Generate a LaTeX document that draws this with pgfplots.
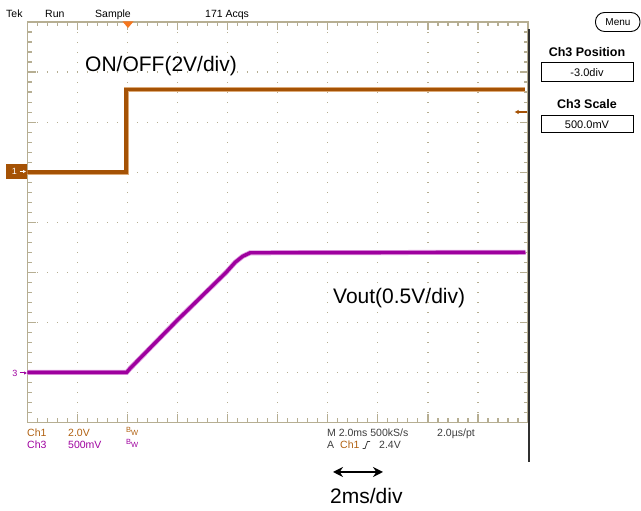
\documentclass[border=0pt]{standalone}
\usepackage{fontspec}
\setmainfont{Liberation Sans}
\usepackage{pgfplots}
\pgfplotsset{compat=1.18}
\usetikzlibrary{arrows.meta}
\definecolor{frame}{RGB}{182,174,146}
\definecolor{chone}{RGB}{165,82,5}
\definecolor{chonehalo}{RGB}{220,170,120}
\definecolor{chonetext}{RGB}{176,96,16}
\definecolor{chthree}{RGB}{158,0,158}
\definecolor{chthreehalo}{RGB}{220,150,220}
\definecolor{trig}{RGB}{245,118,30}
\definecolor{stat}{RGB}{60,60,60}
\begin{document}
\begin{tikzpicture}[x=1pt,y=1pt]
\path[use as bounding box] (0,0) rectangle (641,511);
\begin{axis}[at={(27.5pt,88.5pt)}, anchor=south west, scale only axis,
  width=500.5pt, height=400.5pt,
  xmin=0, xmax=10, ymin=0, ymax=8,
  xtick={0,...,10}, ytick={0,...,8},
  minor x tick num=4, minor y tick num=4,
  xticklabels={}, yticklabels={},
  tick align=inside, major tick length=8pt, minor tick length=4pt,
  axis line style={draw=frame, line width=1.3pt},
  every tick/.style={draw=frame, line width=1.2pt},
  minor tick style={draw=frame, line width=1.2pt},
  major tick style={draw=frame, line width=1.2pt},
  grid=major,
  major grid style={draw=frame, line width=1.2pt, dash pattern=on 1.2pt off 8.8pt, dash phase=0.6pt},
  axis on top=false]
% Ch1 ON/OFF
\addplot[chonehalo, line width=5pt, sharp plot] coordinates {(0,5.0) (1.97,5.0) (1.97,6.65) (9.95,6.65)};
\addplot[chone, line width=3.4pt, sharp plot] coordinates {(0,5.0) (1.97,5.0) (1.97,6.65) (9.95,6.65)};
% Ch3 Vout
\addplot[chthreehalo, line width=5pt, sharp plot] coordinates {(0,1.0) (1.98,1.0) (2.05,1.08) (3.0,2.05) (3.97,3.0) (4.15,3.2) (4.3,3.32) (4.45,3.39) (9.95,3.4)};
\addplot[chthree, line width=3.4pt, sharp plot] coordinates {(0,1.0) (1.98,1.0) (2.05,1.08) (3.0,2.05) (3.97,3.0) (4.15,3.2) (4.3,3.32) (4.45,3.39) (9.95,3.4)};
\end{axis}
% right separator line
\draw[color={rgb,255:red,48;green,48;blue,48}, line width=1.5pt] (529,482) -- (529,49);
% trigger marker
\fill[trig] (122.5,489.5) -- (133.5,489.5) -- (128,483) -- cycle;
% top status
\node[anchor=base west, inner sep=0, font=\fontsize{10.5}{12}\selectfont] at (6,493) {Tek};
\node[anchor=base west, inner sep=0, font=\fontsize{10.5}{12}\selectfont] at (45,493) {Run};
\node[anchor=base west, inner sep=0, font=\fontsize{10.5}{12}\selectfont] at (95,493) {Sample};
\node[anchor=base west, inner sep=0, font=\fontsize{10.5}{12}\selectfont] at (205,493) {171 Acqs};
% ch1 marker
\fill[chone] (6,347) rectangle (27,332);
\node[text=white, inner sep=0, font=\fontsize{9}{10}\selectfont] at (14.5,339.5) {1};
\draw[white, line width=1pt, -{Latex[length=3pt,width=3.5pt]}] (19.5,339.5) -- (26,339.5);
% ch1 level arrow on right
\draw[chone, line width=1.3pt, -{Latex[length=4pt,width=4.5pt]}] (527,399) -- (514.5,399);
% ch3 marker
\node[text=chthree, inner sep=0, font=\fontsize{9}{10}\selectfont] at (15,137.5) {3};
\draw[chthree, line width=1pt, -{Latex[length=3pt,width=3.5pt]}] (19.5,138) -- (27,138);
% bottom status
\node[anchor=base west, inner sep=0, text=chonetext, font=\fontsize{10.5}{12}\selectfont] at (27,74) {Ch1};
\node[anchor=base west, inner sep=0, text=chonetext, font=\fontsize{10.5}{12}\selectfont] at (68,74) {2.0V};
\node[anchor=base west, inner sep=0, text=chonetext, font=\fontsize{7.5}{8}\selectfont] at (126,75.5) {\raisebox{2.5pt}{B}W};
\node[anchor=base west, inner sep=0, text=chthree, font=\fontsize{10.5}{12}\selectfont] at (27,62) {Ch3};
\node[anchor=base west, inner sep=0, text=chthree, font=\fontsize{10.5}{12}\selectfont] at (68,62) {500mV};
\node[anchor=base west, inner sep=0, text=chthree, font=\fontsize{7.5}{8}\selectfont] at (126,63.5) {\raisebox{2.5pt}{B}W};
\node[anchor=base west, inner sep=0, text=stat, font=\fontsize{10.5}{12}\selectfont] at (327,74) {M 2.0ms 500kS/s};
\node[anchor=base west, inner sep=0, text=stat, font=\fontsize{10.5}{12}\selectfont] at (437,74) {2.0µs/pt};
\node[anchor=base west, inner sep=0, text=stat, font=\fontsize{10.5}{12}\selectfont] at (327,62) {A};
\node[anchor=base west, inner sep=0, text=chonetext, font=\fontsize{10.5}{12}\selectfont] at (340,62) {Ch1};
\draw[stat, line width=0.8pt] (362.5,62.5) -- (365,62.5) -- (367.5,69.5) -- (370,69.5);
\node[anchor=base west, inner sep=0, text=stat, font=\fontsize{10.5}{12}\selectfont] at (379,62) {2.4V};
% annotations
\node[anchor=base west, inner sep=0, font=\fontsize{21}{24}\selectfont] at (85,439) {ON/OFF(2V/div)};
\node[anchor=base west, inner sep=0, font=\fontsize{21}{24}\selectfont] at (333,207) {Vout(0.5V/div)};
\node[anchor=base west, inner sep=0, font=\fontsize{21}{24}\selectfont] at (330,7) {2ms/div};
\draw[black, line width=2pt, {Stealth[length=10pt,width=10pt]}-{Stealth[length=10pt,width=10pt]}] (333,39) -- (383,39);
% right panel
\draw[black, line width=0.9pt, rounded corners=9pt] (595.5,479.5) rectangle (640,498.5);
\node[inner sep=0, font=\fontsize{10}{12}\selectfont] at (618,489) {Menu};
\node[inner sep=0, font=\bfseries\fontsize{12.5}{14}\selectfont] at (587,459) {Ch3 Position};
\draw[black, line width=1pt] (541,448) rectangle (633,429);
\node[inner sep=0, font=\fontsize{11}{12}\selectfont] at (587,438.5) {-3.0div};
\node[inner sep=0, font=\bfseries\fontsize{12.5}{14}\selectfont] at (587,407) {Ch3 Scale};
\draw[black, line width=1pt] (541,395) rectangle (633,378);
\node[inner sep=0, font=\fontsize{11}{12}\selectfont] at (587,386.5) {500.0mV};
\end{tikzpicture}
\end{document}
